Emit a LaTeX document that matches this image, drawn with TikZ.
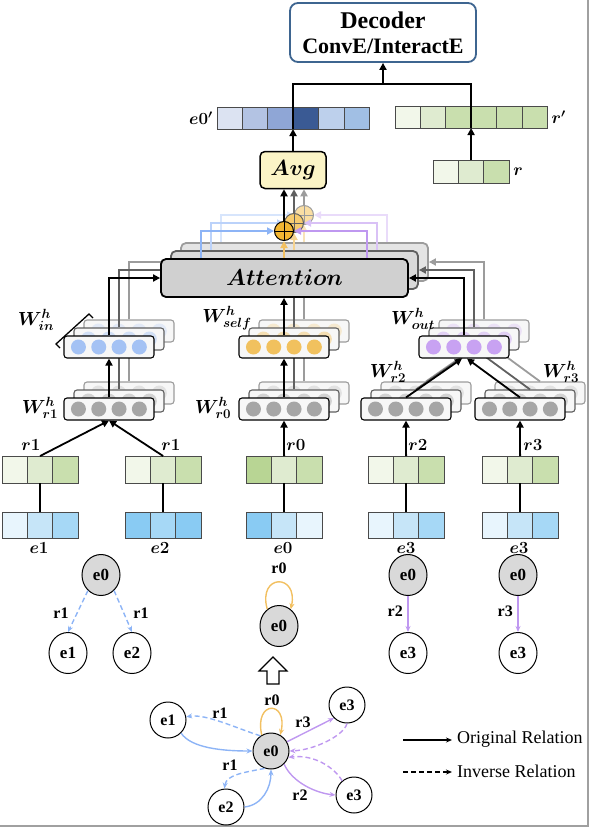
\RequirePackage{fix-cm}
\documentclass[tikz,border=0pt]{standalone}
\usepackage{amsmath}
\usepackage{bm}
\usepackage{fontspec}
\setmainfont{Liberation Serif}
\usepackage{tikz}
\usetikzlibrary{positioning, arrows.meta, shapes.geometric, calc}
\definecolor{decLine}{HTML}{3E6590}
\definecolor{avgFill}{HTML}{FBF4C6}
\definecolor{attA}{HTML}{D0D0D0}
\definecolor{attB}{HTML}{DADADA}
\definecolor{attC}{HTML}{E4E4E4}
\definecolor{inkB}{HTML}{606060}
\definecolor{inkC}{HTML}{9C9C9C}
\definecolor{cellLine}{HTML}{4A4A4A}
\definecolor{nBox}{HTML}{F7F7F7}
\definecolor{nGray}{HTML}{A6A6A6}
\definecolor{nBlue}{HTML}{A4C2F4}
\definecolor{nOrange}{HTML}{F1C15E}
\definecolor{nPurple}{HTML}{C8A2F2}
\definecolor{plusFill}{HTML}{F3B632}
\definecolor{relBlue}{HTML}{8DB4F6}
\definecolor{relPurple}{HTML}{BF98F0}
\definecolor{relOrange}{HTML}{F2C061}
\definecolor{hubGray}{HTML}{D9D9D9}
\definecolor{frameGray}{HTML}{A0A0A0}
% vector cells
\definecolor{gA}{HTML}{F2F7EA}
\definecolor{gB}{HTML}{DFEBD0}
\definecolor{gC}{HTML}{C9DFAE}
\definecolor{gD}{HTML}{B8D594}
\definecolor{bA}{HTML}{E8F5FD}
\definecolor{bB}{HTML}{C6E5F8}
\definecolor{bC}{HTML}{A6D8F6}
\definecolor{bD}{HTML}{89CBF3}
\definecolor{pA}{HTML}{DCE3F2}
\definecolor{pB}{HTML}{B3C3E3}
\definecolor{pC}{HTML}{8FA6D6}
\definecolor{pD}{HTML}{3A5A94}
\definecolor{pE}{HTML}{BDD0EC}
\definecolor{pF}{HTML}{A1BFE4}
% name, left, top, cells, height, colours
\newcommand{\cellrow}[6]{%
  \node[inner sep=0pt, outer sep=0pt, minimum width={#4*25.4pt}, minimum height={#5pt}, anchor=north west] (#1) at (#2,#3) {};
  \foreach \col [count=\i from 0] in {#6}
    {\draw[draw=cellLine, line width=0.8pt, fill=\col] ([xshift={25.4pt*\i}]#1.north west) rectangle ++(25.4,#5);}
}
% node, colour, opacity
\newcommand{\neurdots}[3]{%
  \foreach \i in {0,...,3}
    {\fill[#2, opacity=#3] ([xshift={15pt+20.3pt*\i}]#1.west) circle (7.5);}
}

\begin{document}
\begin{tikzpicture}[x=1pt, y=-1pt,
  flowline/.style={line width=1.8pt, -{Triangle[length=7pt,width=7pt]}},
  plainline/.style={line width=1.8pt},
  relarrow/.style={line width=1.4pt, -{Stealth[length=6pt,width=5pt]}},
  invarrow/.style={relarrow, dash pattern=on 5pt off 3pt},
  neur/.style={rectangle, rounded corners=3pt, minimum width=90pt, minimum height=22pt, inner sep=0pt, line width=1.1pt},
  entity/.style={ellipse, draw, line width=1pt, minimum width=38pt, minimum height=41pt, inner sep=0pt, font=\fontsize{17}{18}\selectfont\bfseries},
  entsm/.style={entity, minimum width=36pt, minimum height=36pt, font=\fontsize{16}{17}\selectfont\bfseries},
  mlab/.style={inner sep=0pt, font=\fontsize{17}{20}\selectfont},
  wlab/.style={inner sep=0pt, font=\fontsize{19}{22}\selectfont},
  glab/.style={inner sep=0pt, font=\fontsize{16}{18}\selectfont\bfseries}]
  \useasboundingbox (0,0) rectangle (592,830);
  \draw[frameGray, line width=2pt] (588,0) -- (588,826) -- (0,826);

  % decoder and outputs
  \node[draw=decLine, line width=1.8pt, rounded corners=8pt, minimum width=186pt, minimum height=59pt, inner sep=0pt] (dec) at (383,32.5) {};
  \node[inner sep=0pt, font=\fontsize{24}{27}\selectfont\bfseries] (decA) at (383,20) {Decoder};
  \node[inner sep=0pt, font=\fontsize{22}{25}\selectfont\bfseries] (decB) at (383,46) {ConvE/InteractE};
  \coordinate (jn) at (383,84);
  \cellrow{e0p}{217}{107}{6}{22}{pA,pB,pC,pD,pE,pF}
  \cellrow{rp}{395}{106}{6}{22}{gA,gB,gC,gC,gC,gC}
  \cellrow{rb}{433}{160}{3}{23}{gA,gB,gC}
  \node[mlab, anchor=east] (lbe0p) at ([xshift=-4pt]e0p.west) {$\bm{e0'}$};
  \node[mlab, anchor=west] (lbrp) at ([xshift=4pt]rp.east) {$\bm{r'}$};
  \node[mlab, anchor=west] (lbrb) at ([xshift=4pt]rb.east) {$\bm{r}$};
  \node[draw, line width=1.5pt, rounded corners=5pt, fill=avgFill, minimum width=66pt, minimum height=37pt, inner sep=0pt, font=\fontsize{22}{24}\selectfont] (avg) at (293,170) {$\bm{Avg}$};
  \draw[plainline] (avg.north |- e0p.south) |- (jn) -| (rb.north |- rp.south);
  \draw[flowline] (avg.north) -- (avg.north |- e0p.south);
  \draw[flowline] (jn) -- (dec.south);
  \draw[flowline] (rb.north) -- (rb.north |- rp.south);

  % stacked heads, back to front
  \foreach \k/\ink/\afill/\fade/\pf/\bl/\pu/\og in
    {3/inkC/attC/0.25/plusFill!45/relBlue!35/relPurple!35/relOrange!45,
     2/inkB/attB/0.45/plusFill!70/relBlue!60/relPurple!60/relOrange!70,
     1/black/attA/1/plusFill/relBlue/relPurple/relOrange}{
  \begin{scope}[shift={({10*(\k-1)},{-8*(\k-1)})}]
    \node[draw=\ink, line width=1.8pt, rounded corners=5pt, fill=\afill, minimum width=247pt, minimum height=38pt, inner sep=0pt, font=\fontsize{23}{25}\selectfont] (att\k) at (284.5,278) {\ifnum\k=1 $\bm{Attention}$\fi};
    \node[circle, draw=\ink, fill=\pf, line width=1pt, minimum size=19pt, inner sep=0pt] (plus\k) at (284,231) {};
    \draw[draw=\ink, line width=1pt] (plus\k.north) -- (plus\k.south) (plus\k.west) -- (plus\k.east);
    \node[neur, draw=\ink, fill=nBox] (win\k) at (109,347) {};
    \node[neur, draw=\ink, fill=nBox] (wself\k) at (284,347) {};
    \node[neur, draw=\ink, fill=nBox] (wout\k) at (464,347) {};
    \node[neur, draw=\ink, fill=nBox] (wrone\k) at (109,409) {};
    \node[neur, draw=\ink, fill=nBox] (wrzero\k) at (284,409) {};
    \node[neur, draw=\ink, fill=nBox] (wrtwo\k) at (406,409) {};
    \node[neur, draw=\ink, fill=nBox] (wrthree\k) at (520,409) {};
    \neurdots{win\k}{nBlue}{\fade}
    \neurdots{wself\k}{nOrange}{\fade}
    \neurdots{wout\k}{nPurple}{\fade}
    \neurdots{wrone\k}{nGray}{\fade}
    \neurdots{wrzero\k}{nGray}{\fade}
    \neurdots{wrtwo\k}{nGray}{\fade}
    \neurdots{wrthree\k}{nGray}{\fade}
    \draw[flowline, draw=\bl] ([xshift=-83.5pt]att\k.north) |- (plus\k.west);
    \draw[flowline, draw=\pu] ([xshift=82.5pt]att\k.north) |- (plus\k.east);
    \draw[flowline, draw=\og] (plus\k.south |- att\k.north) -- (plus\k.south);
    \draw[flowline, draw=\ink] (win\k.north) |- (att\k.west);
    \draw[flowline, draw=\ink] (wself\k.north) -- (wself\k.north |- att\k.south);
    \draw[flowline, draw=\ink] (wout\k.north) |- (att\k.east);
    \draw[flowline, draw=\ink] (wrone\k.north) -- (win\k.south);
    \draw[flowline, draw=\ink] (wrzero\k.north) -- (wself\k.south);
    \draw[flowline, draw=\ink] (wrtwo\k.north) -- ([xshift=-2pt]wout\k.south);
    \draw[flowline, draw=\ink] (wrthree\k.north) -- ([xshift=3pt]wout\k.south);
  \end{scope}}
  \foreach \k/\ink in {3/inkC, 2/inkB, 1/black}
    {\draw[flowline, draw=\ink] (plus\k.north) -- (plus\k.north |- avg.south);}

  \draw[line width=1.3pt] (60,348) -- (56,344) -- (89,314) -- (93,318);
  \node[wlab] (lwin) at (36,320) {$\bm{W^{h}_{in}}$};
  \node[wlab] (lwself) at (227,318) {$\bm{W^{h}_{self}}$};
  \node[wlab] (lwout) at (413,319) {$\bm{W^{h}_{out}}$};
  \node[wlab] (lwrone) at (40,408) {$\bm{W^{h}_{r1}}$};
  \node[wlab] (lwrzero) at (213,408) {$\bm{W^{h}_{r0}}$};
  \node[wlab] (lwrtwo) at (388,372) {$\bm{W^{h}_{r2}}$};
  \node[wlab] (lwrthree) at (561,372) {$\bm{W^{h}_{r3}}$};

  % relation and entity vectors
  \cellrow{rone}{2}{456}{3}{27}{gA,gB,gC}
  \cellrow{eone}{2}{512}{3}{26}{bA,bB,bC}
  \cellrow{ronep}{125}{456}{3}{27}{gA,gB,gC}
  \cellrow{etwo}{125}{512}{3}{26}{bD,bC,bD}
  \cellrow{rzero}{246}{456}{3}{27}{gD,gB,gC}
  \cellrow{ezero}{246}{512}{3}{26}{bD,bB,bA}
  \cellrow{rtwo}{368}{456}{3}{27}{gA,gB,gC}
  \cellrow{ethree}{368}{512}{3}{26}{bA,bB,bC}
  \cellrow{rthree}{482}{456}{3}{27}{gA,gB,gC}
  \cellrow{ethreep}{482}{512}{3}{26}{bA,bB,bC}
  \foreach \e/\r in {eone/rone, etwo/ronep, ezero/rzero, ethree/rtwo, ethreep/rthree}
    {\draw[plainline] (\e.north) -- (\r.south);}
  \draw[flowline] (rone.north) -- (wrone1.south);
  \draw[flowline] (ronep.north) -- (wrone1.south);
  \draw[flowline] (rzero.north) -- (wrzero1.south);
  \draw[flowline] (rtwo.north) -- (wrtwo1.south);
  \draw[flowline] (rthree.north) -- (wrthree1.south);
  \node[mlab] (lrone) at (31,445) {$\bm{r1}$};
  \node[mlab] (lronep) at (171,445) {$\bm{r1}$};
  \node[mlab] (lrzero) at (296,445) {$\bm{r0}$};
  \node[mlab] (lrtwo) at (418,445) {$\bm{r2}$};
  \node[mlab] (lrthree) at (533,445) {$\bm{r3}$};
  \node[mlab] (leone) at (39,548) {$\bm{e1}$};
  \node[mlab] (letwo) at (160,548) {$\bm{e2}$};
  \node[mlab] (lezero) at (283,548) {$\bm{e0}$};
  \node[mlab] (lethree) at (406,548) {$\bm{e3}$};
  \node[mlab] (lethreep) at (519,548) {$\bm{e3}$};

  % per-relation neighbourhoods
  \node[entity, fill=hubGray] (ge0) at (101,575) {e0};
  \node[entity] (ge1) at (68,653) {e1};
  \node[entity] (ge2) at (132,653) {e2};
  \draw[invarrow, relBlue] (ge0.230) -- (ge1.north);
  \draw[invarrow, relBlue] (ge0.310) -- (ge2.north);
  \node[glab] (lgone) at (61,613) {r1};
  \node[glab] (lgtwo) at (141,613) {r1};
  \node[entity, fill=hubGray] (me0) at (279,626) {e0};
  \draw[relarrow, relOrange] (me0.125) .. controls +(-10,-36) and +(8,-36) .. (me0.55);
  \node[glab] (lmzero) at (279,568) {r0};
  \node[entity, fill=hubGray] (te0) at (408,575) {e0};
  \node[entity] (te3) at (408,653) {e3};
  \draw[relarrow, relPurple] (te0) -- (te3);
  \node[glab, anchor=east] (lttwo) at (403,611) {r2};
  \node[entity, fill=hubGray] (ue0) at (518,575) {e0};
  \node[entity] (ue3) at (518,653) {e3};
  \draw[relarrow, relPurple] (ue0) -- (ue3);
  \node[glab, anchor=east] (luthree) at (513,611) {r3};

  \draw[line width=1.2pt, fill=white] (267,684) -- (267,671) -- (259,671) -- (273,657) -- (287,671) -- (279,671) -- (279,684) -- cycle;

  % whole graph
  \node[entsm, fill=hubGray] (be0) at (271,751) {e0};
  \node[entsm] (be1) at (168,720) {e1};
  \node[entsm] (be3a) at (347,705) {e3};
  \node[entsm] (be2) at (226,807) {e2};
  \node[entsm] (be3b) at (354,795) {e3};
  \draw[invarrow, relBlue] (be0.125) .. controls +(-25,-8) and +(20,-3) .. (be1.10);
  \draw[relarrow, relBlue] (be1.-45) .. controls +(10,15) and +(-30,0) .. (be0.180);
  \draw[invarrow, relBlue] (be0.250) .. controls +(-20,4) and +(2,-14) .. (be2.95);
  \draw[relarrow, relBlue] (be2.east) .. controls +(18,-2) and +(0,18) .. (be0.-90);
  \draw[relarrow, relPurple] (be0.30) -- (be3a.225);
  \draw[invarrow, relPurple] (be3a.-90) .. controls +(-3,12) and +(25,-1) .. (be0.0);
  \draw[relarrow, relPurple] (be0.-45) .. controls +(8,18) and +(-20,-2) .. (be3b.180);
  \draw[invarrow, relPurple] (be3b.130) .. controls +(-8,-14) and +(25,-3) .. (be0.-20);
  \draw[relarrow, relOrange] (be0.120) .. controls +(-8,-35) and +(8,-35) .. (be0.60);
  \node[glab] (lbone) at (220,713) {r1};
  \node[glab] (lbonep) at (230,765) {r1};
  \node[glab] (lbzero) at (272,700) {r0};
  \node[glab] (lbthree) at (303,722) {r3};
  \node[glab] (lbtwo) at (300,795) {r2};

  % legend
  \coordinate (lgoA) at (403,740);
  \coordinate (lgoB) at (452,740);
  \coordinate (lgiA) at (403,772);
  \coordinate (lgiB) at (452,772);
  \draw[relarrow] (lgoA) -- (lgoB);
  \draw[invarrow] (lgiA) -- (lgiB);
  \node[anchor=west, inner sep=0pt, font=\fontsize{18}{20}\selectfont] (lgo) at (457,739) {Original Relation};
  \node[anchor=west, inner sep=0pt, font=\fontsize{18}{20}\selectfont] (lgi) at (457,771) {Inverse Relation};
\end{tikzpicture}
\end{document}
